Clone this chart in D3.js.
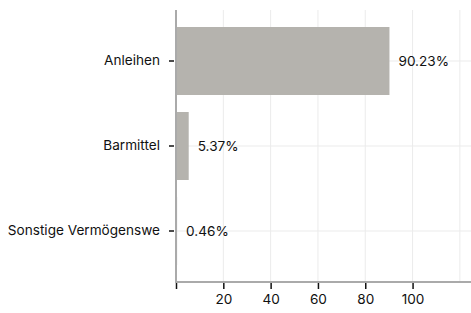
<!DOCTYPE html>
<html>
<head>
<meta charset="utf-8">
<script src="https://cdn.jsdelivr.net/npm/d3@7"></script>
<style>
  body { margin: 0; background: #fff; }
  text { font-family: Inter, "Noto Sans", sans-serif; }
</style>
</head>
<body>
<div id="chart"></div>
<script>
var categories = ["Anleihen", "Barmittel", "Sonstige Vermögenswe"];
var values = [90.23, 5.37, 0.46];
var labels = ["90.23%", "5.37%", "0.46%"];
var xTicks = [0, 20, 40, 60, 80, 100];
var xGrid = [0, 20, 40, 60, 80, 100, 120];

(function () {
  var margin = {top: 10, right: 0, bottom: 31, left: 176},
    width = 471 - margin.left - margin.right,
    height = 313 - margin.top - margin.bottom;

  var svg = d3.select("#chart")
    .append("svg")
      .attr("width", width + margin.left + margin.right)
      .attr("height", height + margin.top + margin.bottom)
    .append("g")
      .attr("transform", "translate(" + margin.left + "," + margin.top + ")");

  var x = d3.scaleLinear()
    .domain([0, 124.7])
    .range([0, width]);

  var y = d3.scaleBand()
    .domain(categories)
    .range([0, height])
    .paddingInner(0.2)
    .paddingOuter(0.2);

  // grid
  svg.append("g")
    .selectAll("line")
    .data(xGrid)
    .join("line")
      .attr("x1", function (d) { return x(d); })
      .attr("x2", function (d) { return x(d); })
      .attr("y1", 0)
      .attr("y2", height)
      .attr("stroke", "#ebebeb")
      .attr("stroke-width", 1);

  svg.append("g")
    .selectAll("line")
    .data(categories)
    .join("line")
      .attr("x1", 0)
      .attr("x2", width)
      .attr("y1", function (d) { return y(d) + y.bandwidth() / 2; })
      .attr("y2", function (d) { return y(d) + y.bandwidth() / 2; })
      .attr("stroke", "#ebebeb")
      .attr("stroke-width", 1);

  // bars
  svg.append("g")
    .selectAll("rect")
    .data(values)
    .join("rect")
      .attr("x", x(0))
      .attr("y", function (d, i) { return y(categories[i]); })
      .attr("width", function (d) { return x(d) - x(0); })
      .attr("height", y.bandwidth())
      .attr("fill", "#b5b3ae");

  // value labels
  svg.append("g")
    .selectAll("text")
    .data(values)
    .join("text")
      .attr("x", function (d) { return x(d) + 9; })
      .attr("y", function (d, i) { return y(categories[i]) + y.bandwidth() / 2; })
      .attr("dy", "0.35em")
      .attr("font-size", 13.6)
      .attr("fill", "#111")
      .text(function (d, i) { return labels[i]; });

  // axes
  var yAxis = svg.append("g")
    .call(d3.axisLeft(y).tickSize(5).tickPadding(6));
  yAxis.select(".domain").remove();
  yAxis.selectAll(".tick line").attr("stroke", "#111").attr("stroke-width", 1.5).attr("transform", "translate(-2,0)");
  yAxis.selectAll(".tick text").attr("font-size", 13.6).attr("fill", "#111").attr("x", -16)
    .style("font-family", "Inter, 'Noto Sans', sans-serif");

  var xAxis = svg.append("g")
    .attr("transform", "translate(0," + height + ")")
    .call(d3.axisBottom(x).tickValues(xTicks).tickSize(7).tickPadding(5)
      .tickFormat(function (d) { return d === 0 ? "" : d; }));
  xAxis.select(".domain").remove();
  xAxis.selectAll(".tick line").attr("stroke", "#111").attr("stroke-width", 1.5);
  xAxis.selectAll(".tick text").attr("font-size", 13.6).attr("fill", "#111")
    .style("font-family", "Inter, 'Noto Sans', sans-serif");

  // axis lines
  svg.append("line")
    .attr("x1", 0).attr("x2", 0).attr("y1", 0).attr("y2", height + 1)
    .attr("stroke", "#aaa").attr("stroke-width", 2);
  svg.append("line")
    .attr("x1", 0).attr("x2", width).attr("y1", height).attr("y2", height)
    .attr("stroke", "#aaa").attr("stroke-width", 2);
})();
</script>
</body>
</html>
